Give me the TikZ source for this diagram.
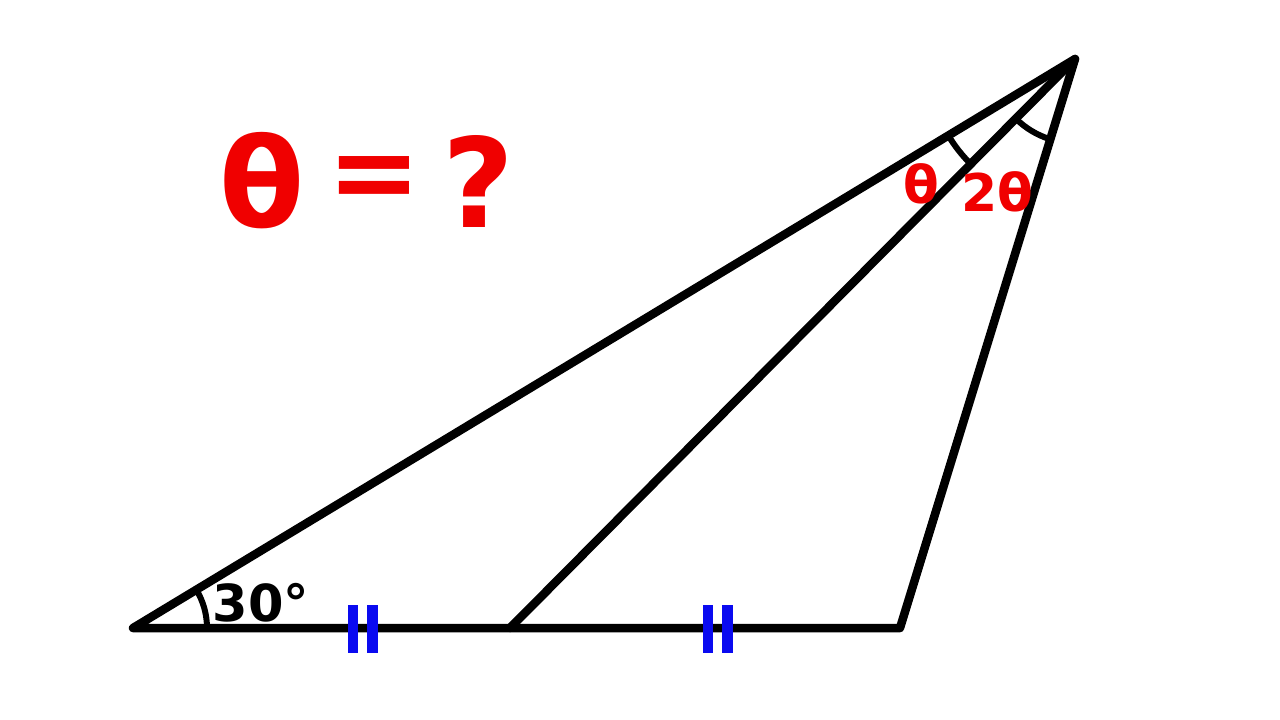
\documentclass[tikz,border=0pt]{standalone}
\usepackage{fontspec}
\setmainfont{DejaVu Sans}
\usetikzlibrary{angles}
\begin{document}
\begin{tikzpicture}[x=1pt,y=-1pt,
  edge/.style={line width=8.5pt,line cap=round,line join=round},
  arcmark/.style={draw,line width=6pt},
  tick/.style={fill={rgb,255:red,10;green,10;blue,240},draw=none},
  redlbl/.style={text={rgb,255:red,240;green,0;blue,0},font=\bfseries,inner sep=0pt},
  blklbl/.style={text=black,font=\bfseries,inner sep=0pt}]
\useasboundingbox (0,0) rectangle (1280,720);
\coordinate (A) at (133,628);
\coordinate (D) at (510,628);
\coordinate (C) at (900,628);
\coordinate (B) at (1075,59);
\draw[edge] (A) -- (C) -- (B) -- cycle;
\draw[edge] (D) -- (B);
\pic[arcmark,angle radius=74pt] {angle=D--A--B};
\pic[arcmark,angle radius=148pt] {angle=A--B--D};
\pic[arcmark,angle radius=84pt] {angle=D--B--C};
\fill[tick] (348,605) rectangle (358,653);
\fill[tick] (367,605) rectangle (378,653);
\fill[tick] (703,605) rectangle (713,653);
\fill[tick] (722,605) rectangle (733,653);
\node[blklbl,font=\bfseries\fontsize{51}{51}\selectfont] (l30) at (261,603) {30°};
\node[redlbl,font=\bfseries\fontsize{52}{52}\selectfont] (lt) at (921,184) {θ};
\node[redlbl,font=\bfseries\fontsize{52}{52}\selectfont] (l2t) at (997,192) {2θ};
\node[redlbl,font=\bfseries\fontsize{124}{124}\selectfont] (q1) at (262,181) {θ};
\node[redlbl,font=\bfseries\fontsize{112}{112}\selectfont] (q2) at (374,184) {=};
\node[redlbl,font=\bfseries\fontsize{124}{124}\selectfont] (q3) at (478,181) {?};
\end{tikzpicture}
\end{document}
